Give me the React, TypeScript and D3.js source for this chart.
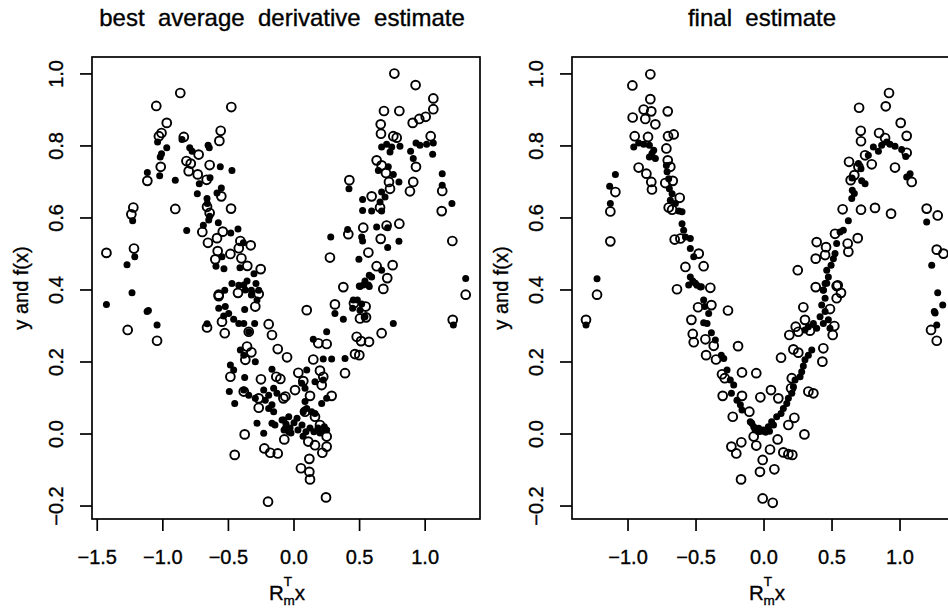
import * as d3 from 'd3';

// tick values for both panels
const yTicks = [-0.2, 0, 0.2, 0.4, 0.6, 0.8, 1.0];
const bestXTicks = [-1.5, -1, -0.5, 0, 0.5, 1];
const finalXTicks = [-1, -0.5, 0, 0.5, 1];

// left panel: responses y (open) and fitted f(x) (filled) vs best average derivative projection
const bestObserved: [number, number][] = [
  [-0.867, 0.947], [-1.05, 0.911], [-0.478, 0.908], [-0.97, 0.864], [-1.01, 0.836], [-1.03, 0.827],
  [-0.559, 0.842], [-0.569, 0.814], [-0.84, 0.825], [-0.727, 0.776], [-0.82, 0.758], [-0.787, 0.751],
  [-0.643, 0.747], [-1.016, 0.742], [-0.803, 0.73], [-0.734, 0.721], [-0.666, 0.706], [-1.118, 0.703],
  [-0.554, 0.66], [-0.905, 0.625], [-0.663, 0.631], [-0.643, 0.614], [-0.48, 0.626], [-1.225, 0.629],
  [-1.24, 0.61], [-0.699, 0.561], [-0.543, 0.562], [-0.587, 0.544], [-0.656, 0.531], [-0.409, 0.536],
  [-0.33, 0.524], [-0.421, 0.516], [-1.22, 0.515], [-1.43, 0.503], [-0.582, 0.508], [-0.485, 0.5],
  [-0.401, 0.488], [-0.6, 0.485], [-0.254, 0.458], [-0.356, 0.467], [-0.574, 0.387],
  [0.765, 1.001], [0.927, 0.969], [1.062, 0.932], [1.062, 0.902], [0.686, 0.897], [0.803, 0.897],
  [0.905, 0.864], [0.955, 0.875], [1.004, 0.881], [0.661, 0.86], [0.663, 0.834], [0.757, 0.827],
  [0.783, 0.823], [1.042, 0.827], [0.63, 0.76], [0.668, 0.746], [0.701, 0.725], [0.93, 0.742],
  [0.909, 0.7], [0.884, 0.674], [0.724, 0.7], [0.732, 0.681], [0.422, 0.705], [0.592, 0.66],
  [0.656, 0.629], [1.13, 0.675], [1.126, 0.619], [1.207, 0.536], [0.803, 0.584], [0.706, 0.579],
  [0.528, 0.573], [0.414, 0.555], [0.661, 0.542], [0.274, 0.49], [0.567, 0.504], [0.63, 0.466],
  [0.752, 0.469], [0.711, 0.433], [0.376, 0.408], [0.681, 0.403], [1.309, 0.387],
  [-1.268, 0.289], [-1.044, 0.259], [-0.663, 0.296], [-0.574, 0.383], [-0.427, 0.392], [-0.269, 0.389],
  [-0.295, 0.354], [-0.549, 0.312], [-0.528, 0.28], [-0.345, 0.284], [-0.193, 0.305], [-0.168, 0.275],
  [-0.124, 0.236], [-0.053, 0.213], [-0.358, 0.243], [-0.325, 0.227], [-0.371, 0.206], [-0.485, 0.159],
  [-0.252, 0.152], [-0.135, 0.159], [-0.104, 0.153], [-0.383, 0.118], [-0.269, 0.099], [-0.269, 0.073],
  [-0.066, 0.104], [-0.376, -0.001], [-0.452, -0.058], [-0.226, -0.04], [-0.181, -0.052], [-0.124, -0.054],
  [-0.074, -0.015], [-0.198, -0.188],
  [0.097, 0.344], [0.312, 0.36], [0.457, 0.363], [0.546, 0.354], [0.503, 0.321], [0.549, 0.324],
  [1.21, 0.317], [0.668, 0.28], [0.478, 0.27], [0.511, 0.258], [0.572, 0.256], [0.185, 0.252],
  [0.249, 0.25], [0.465, 0.222], [0.498, 0.219], [0.147, 0.207], [0.389, 0.169], [0.033, 0.17],
  [0.198, 0.176], [0.223, 0.159], [0.071, 0.147], [0.008, 0.122], [0.211, 0.136], [0.287, 0.106],
  [-0.081, 0.099], [0.122, 0.106], [0.084, 0.062], [0.16, 0.048], [0.198, 0.025], [0.249, -0.007],
  [0.109, -0.021], [0.16, -0.031], [0.249, -0.035], [0.216, -0.052], [0.117, -0.069], [0.053, -0.095],
  [0.117, -0.105], [0.122, -0.126], [0.244, -0.176],
];

const bestFitted: [number, number][] = [
  [-1.04, 0.811], [-0.97, 0.795], [-1.01, 0.778], [-1.02, 0.769], [-0.854, 0.818], [-0.795, 0.795],
  [-0.777, 0.785], [-0.655, 0.802], [-0.646, 0.795], [-0.562, 0.742], [-0.473, 0.732], [-1.118, 0.726],
  [-1.024, 0.717], [-0.905, 0.705], [-0.722, 0.695], [-0.64, 0.712], [-0.737, 0.667], [-0.587, 0.669],
  [-0.554, 0.683], [-0.663, 0.654], [-0.661, 0.64], [-0.643, 0.605], [-0.65, 0.594], [-0.577, 0.587],
  [-1.23, 0.592], [-0.818, 0.565], [-0.691, 0.58], [-0.427, 0.569], [-0.482, 0.558], [-0.386, 0.531],
  [-1.214, 0.492], [-1.273, 0.47], [-0.549, 0.492], [-0.595, 0.466], [-0.534, 0.459], [-0.412, 0.462],
  [-0.305, 0.445], [-1.235, 0.392], [-0.528, 0.399], [-0.473, 0.418], [-0.421, 0.413], [-0.358, 0.425],
  [-0.29, 0.418], [-0.325, 0.399], [-0.269, 0.399],
  [0.668, 0.797], [0.706, 0.805], [0.745, 0.797], [0.808, 0.799], [0.732, 0.783], [0.889, 0.785],
  [0.93, 0.808], [0.96, 0.802], [1.011, 0.805], [1.062, 0.808], [1.057, 0.777], [0.909, 0.765],
  [0.643, 0.732], [0.719, 0.742], [0.757, 0.721], [0.8, 0.7], [1.13, 0.723], [1.13, 0.691],
  [1.204, 0.64], [0.419, 0.681], [0.668, 0.672], [0.694, 0.658], [0.656, 0.644], [0.523, 0.651],
  [0.523, 0.621], [0.592, 0.619], [0.668, 0.619], [0.28, 0.547], [0.409, 0.568], [0.516, 0.547],
  [0.523, 0.536], [0.63, 0.575], [0.714, 0.573], [0.714, 0.518], [0.8, 0.535], [0.495, 0.485],
  [0.668, 0.455], [0.574, 0.441], [0.592, 0.436], [0.541, 0.425], [0.503, 0.41], [0.574, 0.41],
  [1.309, 0.432],
  [-1.43, 0.36], [-1.12, 0.34], [-1.11, 0.343], [-1.044, 0.303], [-0.663, 0.306], [-0.383, 0.414],
  [-0.371, 0.4], [-0.325, 0.386], [-0.282, 0.372], [-0.574, 0.349], [-0.524, 0.354], [-0.498, 0.335],
  [-0.536, 0.328], [-0.46, 0.319], [-0.421, 0.307], [-0.383, 0.307], [-0.345, 0.284], [-0.3, 0.307],
  [-0.376, 0.346], [-0.409, 0.233], [-0.383, 0.219], [-0.295, 0.201], [-0.485, 0.192], [-0.46, 0.178],
  [-0.376, 0.157], [-0.493, 0.118], [-0.452, 0.085], [-0.383, 0.122], [-0.345, 0.108], [-0.295, 0.099],
  [-0.168, 0.18], [-0.231, 0.122], [-0.193, 0.108], [-0.155, 0.127], [-0.13, 0.113], [-0.168, 0.081],
  [-0.193, 0.071], [-0.155, 0.062], [-0.219, 0.094], [-0.282, 0.03], [-0.231, 0.002], [-0.168, 0.03],
  [-0.078, 0.039], [-0.04, 0.048], [-0.066, 0.016], [-0.04, 0.006],
  [0.498, 0.411], [0.528, 0.414], [0.567, 0.414], [0.452, 0.372], [0.483, 0.372], [0.516, 0.361],
  [0.447, 0.349], [0.503, 0.344], [0.541, 0.326], [0.312, 0.335], [0.376, 0.319], [0.757, 0.307],
  [1.215, 0.303], [0.249, 0.284], [0.147, 0.263], [0.223, 0.208], [0.287, 0.208], [0.389, 0.21],
  [0.097, 0.178], [0.059, 0.141], [0.084, 0.127], [0.16, 0.145], [0.223, 0.15], [0.211, 0.085],
  [0.249, 0.099], [0.084, 0.09], [0.097, 0.071], [0.135, 0.062], [0.16, 0.057], [0.071, 0.062],
  [-0.091, 0.039], [-0.061, 0.028], [-0.03, 0.017], [0, 0.031], [0.03, 0.011], [0.061, 0.025],
  [0.091, 0.006], [0.122, 0.017], [0.152, 0.006], [0.183, 0.017], [0.198, 0.003], [0.229, 0.011],
  [-0.023, 0.003], [0.023, 0.044], [0.069, -0.006], [-0.076, 0.011], [-0.145, 0.025], [0.231, 0.02],
  [0.249, 0.011],
];

// right panel: same responses vs final projection
const finalObserved: [number, number][] = [
  [-0.836, 0.999], [-0.968, 0.968], [-0.836, 0.93], [-0.885, 0.901], [-0.829, 0.896], [-0.708, 0.896],
  [-0.966, 0.879], [-0.873, 0.875], [-0.799, 0.86], [-0.951, 0.827], [-0.853, 0.825], [-0.706, 0.827],
  [-0.664, 0.832], [-0.718, 0.793], [-0.922, 0.74], [-0.865, 0.723], [-0.829, 0.7], [-0.824, 0.679],
  [-0.708, 0.76], [-0.689, 0.742], [-0.671, 0.703], [-0.726, 0.697], [-1.093, 0.672], [-1.13, 0.618],
  [-0.62, 0.656], [-0.701, 0.629], [-0.676, 0.623], [-1.13, 0.535], [-0.657, 0.54], [-0.615, 0.543],
  [-0.48, 0.501], [-0.578, 0.464], [-0.444, 0.466], [-0.64, 0.402], [-0.395, 0.406], [-1.228, 0.387],
  [0.919, 0.947], [0.699, 0.906], [0.895, 0.91], [1.005, 0.864], [1.049, 0.828], [0.711, 0.842],
  [0.713, 0.813], [0.846, 0.836], [0.89, 0.822], [0.743, 0.774], [0.792, 0.749], [0.625, 0.756],
  [0.694, 0.742], [0.963, 0.74], [1.049, 0.781], [0.664, 0.719], [0.637, 0.705], [1.086, 0.7],
  [0.578, 0.624], [0.713, 0.623], [0.816, 0.628], [0.934, 0.612], [1.196, 0.626], [1.277, 0.607],
  [0.522, 0.556], [0.689, 0.544], [0.387, 0.533], [0.615, 0.529], [0.62, 0.506], [0.456, 0.519],
  [0.38, 0.487], [0.449, 0.497], [0.248, 0.455], [1.27, 0.512], [1.319, 0.501], [0.38, 0.408],
  [0.542, 0.413], [0.566, 0.392],
  [-1.309, 0.317], [-0.485, 0.352], [-0.387, 0.358], [-0.265, 0.343], [-0.534, 0.317], [-0.524, 0.278],
  [-0.517, 0.255], [-0.431, 0.263], [-0.37, 0.245], [-0.426, 0.219], [-0.353, 0.207], [-0.191, 0.244],
  [-0.309, 0.166], [-0.289, 0.155], [-0.162, 0.171], [-0.057, 0.169], [-0.304, 0.106], [-0.162, 0.106],
  [-0.027, 0.102], [-0.23, 0.048], [-0.108, 0.062], [-0.076, -0.007], [-0.24, -0.035], [-0.167, -0.023],
  [-0.204, -0.054], [-0.057, -0.032], [-0.01, -0.072], [-0.03, -0.105], [-0.169, -0.126], [-0.01, -0.179],
  [0.534, 0.411], [0.534, 0.377], [0.485, 0.347], [0.289, 0.352], [0.301, 0.317], [0.233, 0.298],
  [0.186, 0.275], [0.252, 0.284], [0.338, 0.287], [0.517, 0.3], [0.505, 0.275], [0.436, 0.238],
  [0.429, 0.201], [0.216, 0.235], [0.252, 0.226], [0.125, 0.212], [0.051, 0.122], [0.105, 0.099],
  [0.204, 0.155], [0.199, 0.127], [0.326, 0.118], [0.363, 0.113], [0.223, 0.045], [0.179, 0.025],
  [0.297, -0.001], [0.1, -0.015], [0.044, -0.043], [0.142, -0.051], [0.179, -0.056], [0.208, -0.058],
  [0.076, -0.098], [0.064, -0.191], [1.228, 0.289], [1.27, 0.259],
];

const finalFitted: [number, number][] = [
  [-0.958, 0.797], [-0.922, 0.808], [-0.885, 0.805], [-0.843, 0.802], [-0.811, 0.788], [-0.824, 0.779],
  [-0.799, 0.765], [-0.843, 0.769], [-1.093, 0.721], [-1.135, 0.688], [-1.13, 0.64], [-1.228, 0.431],
  [-0.718, 0.746], [-0.713, 0.728], [-0.701, 0.709], [-0.696, 0.681], [-0.676, 0.667], [-0.689, 0.649],
  [-0.652, 0.64], [-0.627, 0.619], [-0.603, 0.617], [-0.603, 0.584], [-0.591, 0.566], [-0.578, 0.547],
  [-0.542, 0.543], [-0.542, 0.515], [-0.517, 0.492], [-0.542, 0.436], [-0.524, 0.425], [-0.493, 0.413],
  [-0.468, 0.408],
  [0.804, 0.797], [0.841, 0.785], [0.865, 0.802], [0.902, 0.811], [0.926, 0.805], [0.963, 0.799],
  [1.012, 0.79], [1.042, 0.771], [1.074, 0.723], [1.049, 0.714], [0.743, 0.695], [0.718, 0.703],
  [0.767, 0.774], [0.694, 0.751], [0.713, 0.737], [0.647, 0.711], [0.649, 0.677], [0.664, 0.668],
  [0.645, 0.654], [1.196, 0.589], [1.233, 0.469], [1.277, 0.392], [0.62, 0.592], [0.583, 0.566],
  [0.559, 0.561], [0.534, 0.529], [0.522, 0.501], [0.51, 0.487], [0.493, 0.469], [0.461, 0.455],
  [0.473, 0.436], [0.449, 0.418], [0.436, 0.399],
  [-1.309, 0.303], [-0.554, 0.414], [-0.505, 0.419], [-0.461, 0.409], [-0.444, 0.372], [-0.436, 0.354],
  [-0.407, 0.335], [-0.419, 0.307], [-0.444, 0.309], [-0.387, 0.281], [-0.358, 0.261], [-0.314, 0.219],
  [-0.296, 0.21], [-0.272, 0.178], [-0.248, 0.15], [-0.223, 0.136], [-0.24, 0.113], [-0.199, 0.094],
  [-0.174, 0.081], [-0.162, 0.067], [-0.101, 0.034], [-0.076, 0.02], [-0.039, 0.016],
  [1.314, 0.358], [1.252, 0.34], [1.258, 0.336], [1.27, 0.303],
  [0.461, 0.419], [0.436, 0.4], [0.449, 0.377], [0.424, 0.358], [0.449, 0.34], [0.412, 0.326],
  [0.436, 0.307], [0.387, 0.294], [0.363, 0.307], [0.326, 0.298], [0.301, 0.289], [0.473, 0.317],
  [0.485, 0.294], [0.351, 0.233], [0.326, 0.219], [0.301, 0.206], [0.289, 0.189], [0.277, 0.173],
  [0.265, 0.159], [0.228, 0.15], [0.216, 0.131], [0.204, 0.113], [0.179, 0.099], [0.167, 0.085],
  [0.142, 0.071], [0.125, 0.057], [0.093, 0.048], [0.056, 0.034], [0.032, 0.02], [-0.005, 0.011],
  [-0.042, 0.006], [-0.066, 0.011], [-0.09, 0.03], [-0.02, 0.008], [0.01, 0.005], [0.04, 0.008],
  [0.07, 0.025],
];

const FONT = '"Liberation Sans", Arial, Helvetica, sans-serif';
const fmt = d3.format('.1f');

const TOP = 57;
const BOTTOM = 519;
const BOX_W = 388;

type PanelProps = {
  title: string;
  left: number;
  xDomain: [number, number];
  xTicks: number[];
  observed: [number, number][];
  fitted: [number, number][];
};

const Panel = ({title, left, xDomain, xTicks, observed, fitted}: PanelProps) => {
  const x = d3.scaleLinear().domain(xDomain).range([left, left + BOX_W]);
  const y = d3.scaleLinear().domain([-0.236, 1.047]).range([BOTTOM, TOP]);
  const cx = left + BOX_W / 2;
  const midY = (TOP + BOTTOM) / 2;

  return (
    <g fontFamily={FONT} fill="#000">
      {/* slight stroke on text to mimic the heavy printed look */}
      <g stroke="#000" strokeWidth={0.35}>
        <text x={cx - 4} y={26} textAnchor="middle" fontSize={24} style={{whiteSpace: 'pre'}}>
          {title}
        </text>
        {xTicks.map(t => (
          <text key={'xl' + t} x={x(t)} y={564} textAnchor="middle" fontSize={20}>{fmt(t)}</text>
        ))}
        {yTicks.map(t => (
          <text key={'yl' + t} transform={`translate(${left - 29},${y(t)}) rotate(-90)`}
                textAnchor="middle" fontSize={20}>
            {fmt(t)}
          </text>
        ))}
        <text x={cx - 17} y={600} fontSize={20.5}>
          R<tspan fontSize={13.5} dy={-14}>T</tspan>
          <tspan fontSize={13.5} dx={-8.5} dy={19}>m</tspan>
          <tspan fontSize={20.5} dy={-5}>x</tspan>
        </text>
        <text transform={`translate(${left - 64},${midY}) rotate(-90)`} textAnchor="middle" fontSize={20}>
          y and f(x)
        </text>
      </g>

      <rect x={left} y={TOP} width={BOX_W} height={BOTTOM - TOP} fill="none" stroke="#000" strokeWidth={1.7} />
      {xTicks.map(t => (
        <line key={'xt' + t} x1={x(t)} x2={x(t)} y1={BOTTOM} y2={BOTTOM + 12} stroke="#000" strokeWidth={1.7} />
      ))}
      {yTicks.map(t => (
        <line key={'yt' + t} x1={left - 12} x2={left} y1={y(t)} y2={y(t)} stroke="#000" strokeWidth={1.7} />
      ))}

      {/* points */}
      {observed.map((d, i) => (
        <circle key={'o' + i} cx={x(d[0])} cy={y(d[1])} r={4.4} fill="none" stroke="#000" strokeWidth={1.9} />
      ))}
      {fitted.map((d, i) => (
        <circle key={'f' + i} cx={x(d[0])} cy={y(d[1])} r={3.5} fill="#000" />
      ))}
    </g>
  );
};

export default function App() {
  return (
    <svg width={948} height={609} style={{position: 'absolute', left: 0, top: 0, background: '#fff'}}>
      <rect width={948} height={609} fill="#fff" />
      <Panel title={'best  average  derivative  estimate'} left={92} xDomain={[-1.54, 1.418]}
             xTicks={bestXTicks} observed={bestObserved} fitted={bestFitted} />
      <Panel title={'final  estimate'} left={572} xDomain={[-1.412, 1.441]}
             xTicks={finalXTicks} observed={finalObserved} fitted={finalFitted} />
    </svg>
  );
}
